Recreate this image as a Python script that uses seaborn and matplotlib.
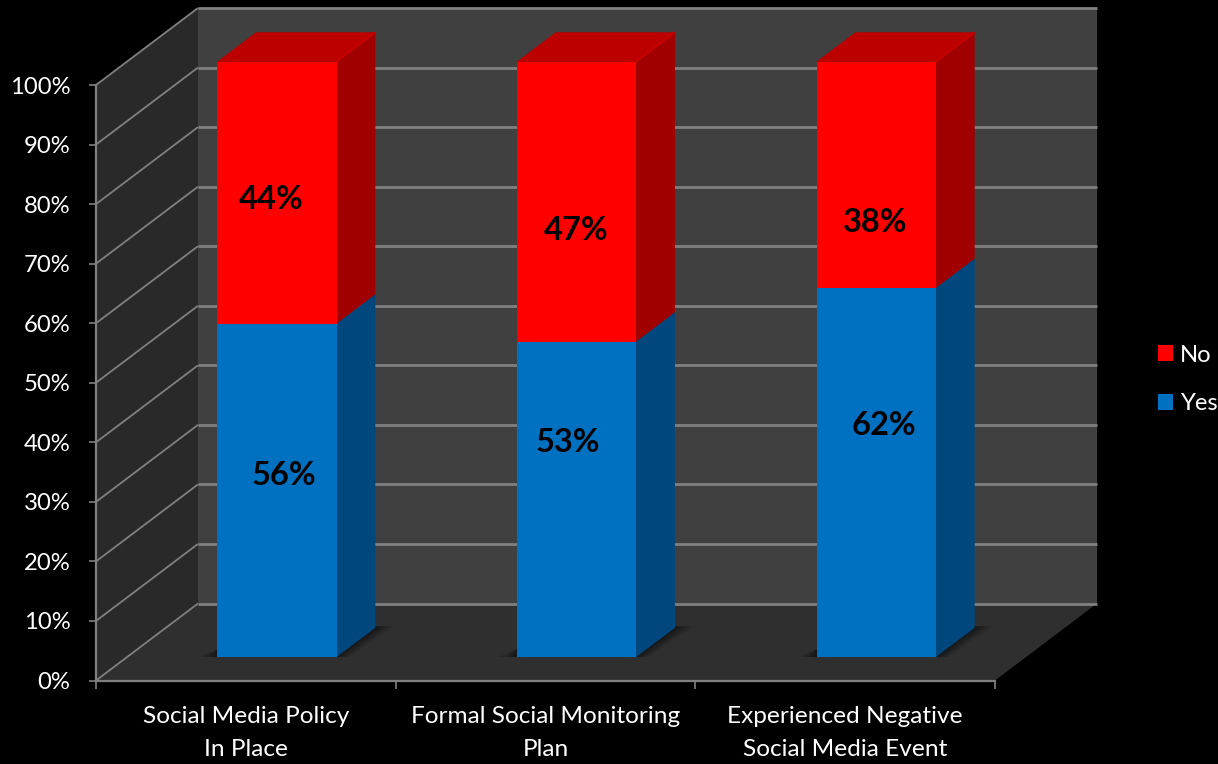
import matplotlib
matplotlib.use("Agg")
import matplotlib.pyplot as plt
from matplotlib.patches import Polygon
from matplotlib.transforms import Affine2D, IdentityTransform
import numpy as np
import pandas as pd
import seaborn as sns

categories = ["Social Media Policy\nIn Place", "Formal Social Monitoring\nPlan", "Experienced Negative\nSocial Media Event"]
yes_values = [56, 53, 62]
no_values = [44, 47, 38]
ytick_values = list(range(0, 101, 10))
ytick_labels = [f"{v}%" for v in ytick_values]

# pixel nudges of the value labels from the centre of each bar segment
yes_label_offsets = [(7, 15), (-9, 57), (7, 47)]
no_label_offsets = [(-6, -7), (-1, -29), (-1, -47)]

W, H = 1218, 764
DX, DY = 102, 77           # full chart depth, pixels
BAR_D0, BAR_D1 = 0.30, 0.685   # bar front and back, as a share of the depth
RED, RED_SIDE, RED_TOP = "#ff0000", "#a00000", "#bc0000"
BLUE, BLUE_SIDE = "#0070c0", "#00477e"
GRID = "#808080"

df = pd.DataFrame({"category": categories, "Yes": yes_values, "No": no_values})

sns.set_theme(style="white")
plt.rcParams["font.family"] = ["Lato", "DejaVu Sans"]
fig = plt.figure(figsize=(W / 100, H / 100), dpi=100, facecolor="black")
ax = fig.add_axes([96 / W, (H - 680.5) / H, 899 / W, 595.5 / H])
ax.patch.set_alpha(0)

sns.barplot(data=df, x="category", y="Yes", color=BLUE, saturation=1, width=0.398, ax=ax, label="Yes")
sns.barplot(data=df, x="category", y="No", bottom=df["Yes"], color=RED, saturation=1, width=0.398, ax=ax, label="No")
ax.set_xlim(-0.5, 2.5)
ax.set_ylim(0, 100)
ax.set_xlabel("")
ax.set_ylabel("")


def p3(x, y, d):
    px = ax.transData.transform((x, y))
    return (px[0] + d * DX, px[1] + d * DY)


def face(points, color, z, alpha=1.0):
    ax.add_patch(Polygon(points, closed=True, facecolor=color, edgecolor="none", alpha=alpha,
                         transform=IdentityTransform(), clip_on=False, zorder=z))


def seg(a, b, z=1.0, lw=1.6, color=GRID):
    ax.plot([a[0], b[0]], [a[1], b[1]], color=color, lw=lw, transform=IdentityTransform(),
            clip_on=False, zorder=z, solid_capstyle="butt")


bars = [p for p in ax.patches if p.get_width() < 1]
xmin, xmax = ax.get_xlim()
# walls and floor
face([p3(xmin, 100, 1), p3(xmax, 100, 1), p3(xmax, 0, 1), p3(xmin, 0, 1)], "#404040", 0.1)
face([p3(xmin, 0, 0), p3(xmin, 100, 0), p3(xmin, 100, 1), p3(xmin, 0, 1)], "#292929", 0.1)
face([p3(xmin, 0, 0), p3(xmax, 0, 0), p3(xmax, 0, 1), p3(xmin, 0, 1)], "#2f2f2f", 0.1)

# gridlines on the back and left walls
for v in ytick_values:
    seg(p3(xmin, v, 0), p3(xmin, v, 1), lw=1.3)
    seg(p3(xmin, v, 1), p3(xmax, v, 1), lw=2.0)

# bars: the seaborn rectangles become the front faces, side and top are built from them
front = ax.transData + Affine2D().translate(BAR_D0 * DX + 0.7, BAR_D0 * DY)
n = len(categories)
for i, p in enumerate(bars):
    is_no = i >= n
    x0, x1 = p.get_x(), p.get_x() + p.get_width()
    y0, y1 = p.get_y(), p.get_y() + p.get_height()
    p.set_transform(front)
    p.set_clip_on(False)
    p.set_zorder(4)
    p.set_edgecolor("none")
    face([p3(x1, y0, BAR_D0), p3(x1, y1, BAR_D0), p3(x1, y1, BAR_D1), p3(x1, y0, BAR_D1)],
         RED_SIDE if is_no else BLUE_SIDE, 3)
    if is_no:
        face([p3(x0, y1, BAR_D0), p3(x1, y1, BAR_D0), p3(x1, y1, BAR_D1), p3(x0, y1, BAR_D1)], RED_TOP, 3)
        seg(p3(x1, y1, BAR_D0), p3(x1, y1, BAR_D1), z=3.5, lw=1.2, color="#cc0000")
    else:
        # soft floor shadow
        a, b, c = p3(x0, y0, BAR_D0), p3(x1, y0, BAR_D0), p3(x1, y0, BAR_D1)
        for e in np.arange(19, 0, -1.5):
            face([(a[0] - e, a[1] + 0.5), (b[0] + e * 0.7, b[1] + 0.5), (c[0] + e, c[1] + 1.5),
                  (c[0], c[1] + 1.5), (a[0], a[1] + 8)], "#000000", 2, alpha=0.04)


def value_label(i, base, value, offset):
    ax.annotate(f"{value}%", xy=(i, base + value / 2), xycoords=front, xytext=offset,
                textcoords="offset pixels", ha="center", va="center", fontsize=23.5,
                fontweight="bold", color="black", zorder=6, annotation_clip=False)


for i in range(n):
    value_label(i, 0, yes_values[i], yes_label_offsets[i])
    value_label(i, yes_values[i], no_values[i], no_label_offsets[i])

# axes
for s in ["top", "right"]:
    ax.spines[s].set_visible(False)
for s in ["left", "bottom"]:
    ax.spines[s].set_color(GRID)
    ax.spines[s].set_linewidth(1.6)
    ax.spines[s].set_zorder(1.5)
ax.set_yticks(ytick_values, ytick_labels)
ax.set_xticks(range(n), categories)
ax.set_xticks([-0.5, 0.5, 1.5, 2.5], minor=True)
ax.tick_params(axis="x", which="major", length=0, pad=18.5, labelsize=17.6, labelcolor="white")
ax.tick_params(axis="x", which="minor", length=5.5, width=1.2, color=GRID, direction="out", bottom=True)
ax.tick_params(axis="y", which="major", length=5, width=1.2, color=GRID, direction="out", left=True,
               pad=13.5, labelsize=17.2, labelcolor="white")
for t in ax.get_xticklabels():
    t.set_linespacing(1.68)
    t.set_ha("center")

# legend, No above Yes
handles, labels = ax.get_legend_handles_labels()
if ax.get_legend() is not None:
    ax.get_legend().remove()
leg = fig.legend(handles[::-1], labels[::-1], loc="center left", bbox_to_anchor=(1158 / W, (H - 379.5) / H),
                 frameon=False, fontsize=17.2, labelcolor="white", handlelength=0.64, handleheight=0.66,
                 handletextpad=0.28, labelspacing=1.15, borderpad=0, borderaxespad=0)
for h in leg.legend_handles:
    h.set_edgecolor("none")

fig.savefig("out.png", dpi=100, facecolor="black")
